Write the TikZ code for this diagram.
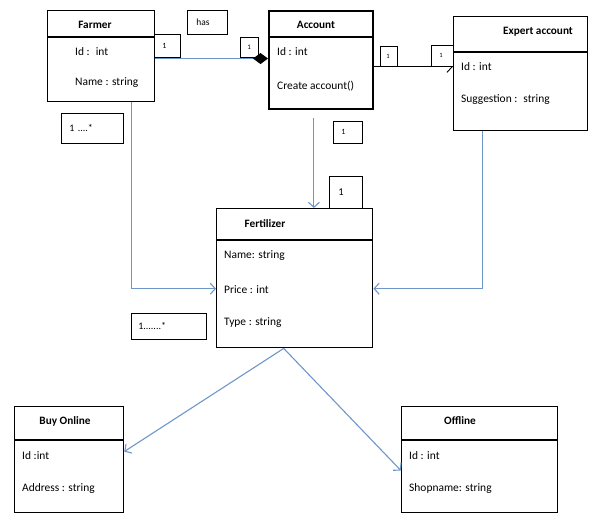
\documentclass[tikz,border=0pt]{standalone}
\usepackage{fontspec}
\setmainfont{Carlito}
\usetikzlibrary{arrows.meta}
\definecolor{linkblue}{RGB}{111,150,201}
\begin{document}
\begin{tikzpicture}[x=1bp,y=-1bp,
  classbox/.style={draw=black, line width=1.1bp, anchor=north west, inner sep=0pt},
  divider/.style={draw=black, line width=1.1bp},
  title/.style={font=\bfseries\fontsize{11.3}{13}\selectfont, inner sep=0pt},
  attr/.style={anchor=west, font=\fontsize{11.5}{13}\selectfont, inner sep=0pt},
  mult/.style={draw=black, line width=0.8bp, anchor=north west, inner ysep=0pt,
    align=left, font=\fontsize{8.5}{9}\selectfont},
  assoc/.style={draw=linkblue, line width=1.1bp},
  tip/.style={-{Straight Barb[length=5bp,width=11bp]}}
]
\useasboundingbox (0,0) rectangle (592,515);

% ---- classes ----
\node[classbox, minimum width=107bp, minimum height=91bp] (farmer) at (47,10) {};
\draw[divider] ([yshift=-27bp]farmer.north west) -- ([yshift=-27bp]farmer.north east);
\node[title] (farmerT) at (95,25) {Farmer};
\node[attr] (farmerA) at (75,52) {Id :~ int};
\node[attr] (farmerB) at (75,83) {Name : string};

\node[classbox, line width=1.8bp, minimum width=104bp, minimum height=98bp] (account) at (268,10) {};
\draw[divider, line width=1.4bp] ([yshift=-27bp]account.north west) -- ([yshift=-27bp]account.north east);
\node[title] (accountT) at (316,25) {Account};
\node[attr] (accountA) at (277,52) {Id : int};
\node[attr] (accountB) at (277,86) {Create account()};

\node[classbox, line width=1.4bp, minimum width=134bp, minimum height=114bp] (expert) at (453,16) {};
\draw[divider] ([yshift=-36bp]expert.north west) -- ([yshift=-36bp]expert.north east);
\node[title] (expertT) at (538,32) {Expert account};
\node[attr] (expertA) at (461,67) {Id : int};
\node[attr] (expertB) at (461,100) {Suggestion :~ string};

\node[classbox, line width=1.4bp, minimum width=156bp, minimum height=139bp] (fert) at (216,208) {};
\draw[divider] ([yshift=-32bp]fert.north west) -- ([yshift=-32bp]fert.north east);
\node[title] (fertT) at (265,224) {Fertilizer};
\node[attr] (fertA) at (224,256) {Name: string};
\node[attr] (fertB) at (224,290) {Price : int};
\node[attr] (fertC) at (224,323) {Type : string};

\node[classbox, line width=1.2bp, minimum width=109bp, minimum height=106bp] (online) at (14,406) {};
\draw[divider] ([yshift=-34bp]online.north west) -- ([yshift=-34bp]online.north east);
\node[title] (onlineT) at (65,421) {Buy Online};
\node[attr] (onlineA) at (22,456) {Id :int};
\node[attr] (onlineB) at (22,489) {Address : string};

\node[classbox, line width=1.2bp, minimum width=156bp, minimum height=106bp] (offline) at (401,406) {};
\draw[divider] ([yshift=-34bp]offline.north west) -- ([yshift=-34bp]offline.north east);
\node[title] (offlineT) at (460,421) {Offline};
\node[attr] (offlineA) at (409,456) {Id : int};
\node[attr] (offlineB) at (409,489) {Shopname: string};

% ---- multiplicity and role boxes ----
\node[mult, minimum width=40bp, minimum height=24bp, inner xsep=9bp, text width=22bp,
  font=\fontsize{9.5}{10}\selectfont] (has) at (187,10) {has};
\node[mult, minimum width=26bp, minimum height=23bp, inner xsep=8bp, text width=10bp,
  font=\fontsize{8}{9}\selectfont] (m1) at (154,34) {1};
\node[mult, minimum width=18bp, minimum height=20bp, inner xsep=7bp, text width=4bp,
  font=\fontsize{7}{8}\selectfont] (m2) at (240,37) {1};
\node[mult, minimum width=17bp, minimum height=20bp, inner xsep=6bp, text width=5bp,
  font=\fontsize{6.5}{7}\selectfont] (m3) at (380,46) {1};
\node[mult, minimum width=22bp, minimum height=21bp, inner xsep=8bp, text width=6bp,
  font=\fontsize{6.5}{7}\selectfont] (m4) at (431,45) {1};
\node[mult, minimum width=29bp, minimum height=22bp, inner xsep=8bp, text width=13bp,
  font=\fontsize{8}{9}\selectfont] (m5) at (333,121) {1};
\node[mult, minimum width=33bp, minimum height=32bp, inner xsep=9bp, text width=15bp,
  font=\fontsize{10.5}{11}\selectfont] (m6) at (329,176) {1};
\node[mult, minimum width=62bp, minimum height=30bp, inner xsep=8bp, text width=46bp,
  font=\fontsize{10}{11}\selectfont] (m7) at (61,113) {1 ....*};
\node[mult, minimum width=75bp, minimum height=26bp, inner xsep=7bp, text width=61bp,
  font=\fontsize{10}{11}\selectfont] (m8) at (131,313) {1.......*};

% ---- connectors ----
% composition: Farmer -- Account
\draw[assoc, -{Diamond[fill=black,color=black,length=15bp,width=11bp]}]
  ([yshift=-2.5bp]farmer.east) -- ([yshift=-2.5bp]farmer.east -| account.west);
% Account -> Expert account
\draw[draw=black, line width=0.9bp, -{Straight Barb[harpoon,swap,length=5bp,width=11bp]}]
  ([yshift=-7bp]account.east) -- ([yshift=-7bp]account.east -| expert.west);
% Account -> Fertilizer
\coordinate (accDown) at ([xshift=-7bp,yshift=-8bp]account.south);
\draw[assoc, tip] (accDown) -- (accDown |- fert.north);
% Farmer -> Fertilizer
\draw[assoc, tip] ([xshift=30.5bp]farmer.south) |- ([yshift=-10.5bp]fert.west);
% Expert account -> Fertilizer
\draw[assoc, tip] ([xshift=-38bp]expert.south) |- ([yshift=-10.5bp]fert.east);
% Fertilizer -> Buy Online / Offline
\draw[assoc, tip] ([xshift=-11bp]fert.south) -- ([yshift=8bp]online.east);
\draw[assoc, tip] ([xshift=-11bp]fert.south) -- ([yshift=-11bp]offline.west);
\end{tikzpicture}
\end{document}
